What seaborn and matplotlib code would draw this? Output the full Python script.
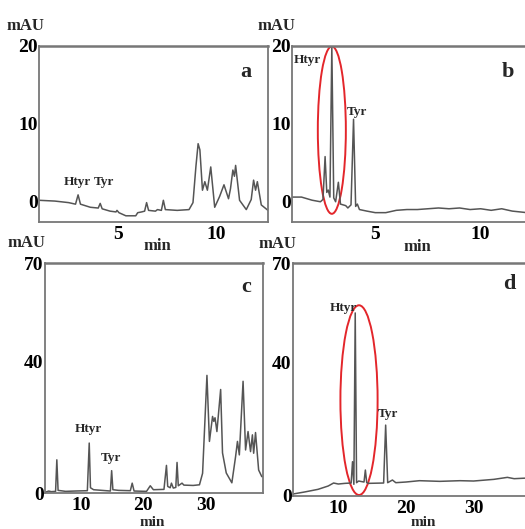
import numpy as np
import pandas as pd
import matplotlib
matplotlib.use("Agg")
import matplotlib.pyplot as plt
from matplotlib.patches import Ellipse
from matplotlib.ticker import MultipleLocator
import seaborn as sns

# panel a: olive sample, short run (min, mAU)
time_a = [1.0, 1.8, 2.5, 2.85, 2.98, 3.1, 3.6, 4.0, 4.1, 4.2, 4.6, 4.9, 4.95, 5.05, 5.4, 5.9,
          6.0, 6.2, 6.35, 6.45, 6.55, 6.9, 7.0, 7.2, 7.3, 7.4, 8.0, 8.6, 8.8, 8.95, 9.06, 9.15,
          9.28, 9.4, 9.53, 9.7, 9.9, 10.15, 10.37, 10.6, 10.7, 10.82, 10.9, 10.96, 11.16,
          11.5, 11.75, 11.87, 11.97, 12.06, 12.26, 12.6]
mau_a = [0.1, 0.0, -0.2, -0.4, 0.8, -0.4, -0.8, -0.9, -0.3, -1.0, -1.3, -1.4, -1.2, -1.5, -1.9, -1.9,
         -1.5, -1.4, -1.3, -0.2, -1.2, -1.3, -1.1, -1.2, 0.1, -1.1, -1.2, -1.1, -0.2, 4.5, 7.4, 6.6,
         1.4, 2.5, 1.4, 4.4, -0.8, 0.6, 2.1, 0.3, 1.6, 4.0, 3.2, 4.6, 0.1,
         -1.1, 0.2, 2.7, 1.4, 2.5, -0.5, -1.2]

# panel b: spiked sample, short run
time_b = [1.05, 1.5, 2.0, 2.4, 2.52, 2.62, 2.7, 2.77, 2.85, 2.94, 3.03, 3.12, 3.25, 3.35, 3.6, 3.7,
          3.85, 3.97, 4.07, 4.15, 4.25, 4.6, 5.0, 5.5, 6.0, 6.5, 7.0, 7.5, 8.0, 8.5, 9.0, 9.5,
          10.0, 10.5, 11.0, 11.5, 12.2]
mau_b = [0.6, 0.6, 0.2, 0.0, 0.3, 5.8, 1.2, 1.5, 0.6, 19.9, 0.5, 0.0, 2.5, -0.3, -0.5, -0.8,
         -0.4, 10.6, -0.6, -0.3, -1.0, -1.2, -1.4, -1.4, -1.1, -1.0, -1.0, -0.9, -0.8, -0.9, -0.8, -1.0,
         -0.9, -1.1, -0.9, -1.2, -1.4]

# panel c: olive sample, long run
time_c = [4.2, 4.8, 5.2, 5.9, 6.1, 6.3, 7.5, 9.0, 11.0, 11.3, 11.5, 12.0, 14.7, 14.9, 15.1, 16.0,
          17.9, 18.2, 18.5, 20.5, 21.1, 21.6, 23.3, 23.7, 23.9, 24.3, 24.5, 24.8, 25.2, 25.4, 25.6,
          26.2, 26.5, 28.0, 29.0, 29.5, 30.2, 30.6, 31.1, 31.3, 31.5, 31.8, 32.4, 32.7, 33.3, 34.2,
          34.8, 35.1, 35.4, 36.0, 36.4, 36.8, 37.2, 37.5, 37.7, 38.0, 38.5, 39.0, 39.3]
mau_c = [0.2, 0.6, 0.4, 0.5, 10.1, 0.8, 0.5, 0.6, 0.7, 15.2, 1.6, 1.0, 0.6, 6.8, 1.0, 0.8,
         0.7, 3.0, 0.6, 0.5, 2.2, 1.0, 1.1, 8.4, 2.0, 1.6, 3.0, 1.5, 1.7, 9.3, 2.2,
         3.0, 2.4, 2.3, 2.5, 6.0, 35.8, 15.7, 23.3, 21.8, 22.9, 18.7, 31.5, 12.2, 6.1, 3.1,
         11.1, 15.7, 11.6, 34.0, 13.1, 18.7, 12.6, 17.7, 12.1, 18.4, 7.0, 5.0, 5.0]

# panel d: spiked sample, long run
time_d = [3.3, 5.0, 7.0, 8.5, 9.3, 10.0, 11.0, 11.9, 12.1, 12.3, 12.5, 12.7, 13.0, 13.8, 14.0,
          14.2, 14.5, 16.7, 17.0, 17.3, 18.0, 18.5, 20.0, 22.0, 25.0, 28.0, 30.0, 33.0, 35.0,
          36.0, 38.0]
mau_d = [0.6, 1.2, 2.0, 3.0, 3.9, 3.6, 3.8, 3.9, 10.3, 3.5, 55.0, 4.0, 4.5, 4.2, 7.8,
         4.0, 3.8, 3.9, 21.3, 4.0, 4.8, 4.0, 4.2, 4.6, 4.4, 4.6, 4.5, 5.0, 5.6,
         5.2, 5.4]

W, H = 525, 529
sns.set_style("white")
plt.rcParams["font.family"] = ["Liberation Serif", "DejaVu Serif"]
plt.rcParams["font.weight"] = "bold"

fig = plt.figure(figsize=(W / 100, H / 100), dpi=100)


def px_axes(l, t, r, b):
    return fig.add_axes([l / W, 1 - b / H, (r - l) / W, (b - t) / H])


def px_text(x, y, s, size=11):
    fig.text(x / W, 1 - y / H, s, ha="center", va="center", fontsize=size, fontweight="bold")


def draw(ax, t, v, xlim, ylim, yticks, xticks, xminor, yminor):
    df = pd.DataFrame({"min": t, "mAU": v})
    sns.lineplot(data=df, x="min", y="mAU", sort=False, color="#555555", linewidth=1.1, ax=ax)
    ax.set_xlim(*xlim)
    ax.set_ylim(*ylim)
    ax.set_xticks(xticks)
    ax.set_yticks(yticks)
    ax.xaxis.set_minor_locator(MultipleLocator(xminor))
    ax.yaxis.set_minor_locator(MultipleLocator(yminor))
    ax.tick_params(which="both", direction="in", colors="#777777", labelcolor="black",
                   labelsize=14)
    ax.tick_params(which="major", length=3, width=1)
    ax.tick_params(which="minor", length=1.8, width=0.8)
    ax.tick_params(axis="x", pad=3)
    ax.tick_params(axis="y", pad=1)
    for lab in ax.get_xticklabels() + ax.get_yticklabels():
        lab.set_fontweight("bold")
    ax.set_xlabel("")
    ax.set_ylabel("")
    for side, sp in ax.spines.items():
        sp.set_visible(True)
        sp.set_color("#777777")
        sp.set_linewidth(1.3)
    ax.spines["top"].set_linewidth(1.8)


ax_a = px_axes(39, 46, 268, 222)
draw(ax_a, time_a, mau_a, (1.0, 12.6), (-2.7, 20), [0, 10, 20], [5, 10], 0.25, 1)
ax_b = px_axes(292, 46, 527, 222)
draw(ax_b, time_b, mau_b, (1.05, 12.2), (-2.6, 20), [0, 10, 20], [5, 10], 0.25, 1)
ax_c = px_axes(45, 263, 263, 493)
draw(ax_c, time_c, mau_c, (4.2, 39.2), (0, 70), [0, 40, 70], [10, 20, 30], 1, 2)
ax_d = px_axes(293, 263, 527, 496)
draw(ax_d, time_d, mau_d, (3.3, 37.9), (0, 70), [0, 40, 70], [10, 20, 30], 1, 2)

# red rings around the hydroxytyrosol peak
ax_b.add_patch(Ellipse((2.94, 9.2), 1.33, 21.5, fill=False, edgecolor="#e3262b", linewidth=1.4))
ax_d.add_patch(Ellipse((13.06, 28.8), 5.5, 57, fill=False, edgecolor="#e3262b", linewidth=1.4))

# peak labels
for ax, pos in [(ax_a, [(77, 182), (104, 182)]), (ax_b, [(307, 60), (357, 112)]),
                (ax_c, [(88, 429), (111, 458)]), (ax_d, [(343, 308), (388, 414)])]:
    px_text(pos[0][0], pos[0][1], "Htyr", size=9.5)
    px_text(pos[1][0], pos[1][1], "Tyr", size=9.5)

# axis titles and panel letters
for x, y in [(25, 26), (276, 26), (26, 243), (277, 244)]:
    px_text(x, y, "mAU", size=12)
for x, y in [(157, 246), (417, 247)]:
    px_text(x, y, "min", size=12)
for x, y in [(152, 522), (423, 522)]:
    px_text(x, y, "min", size=11)
for x, y, s in [(246, 72, "a"), (508, 72, "b"), (246, 287, "c"), (509, 284, "d")]:
    px_text(x, y, s, size=16)

fig.savefig("out.png", dpi=100)
